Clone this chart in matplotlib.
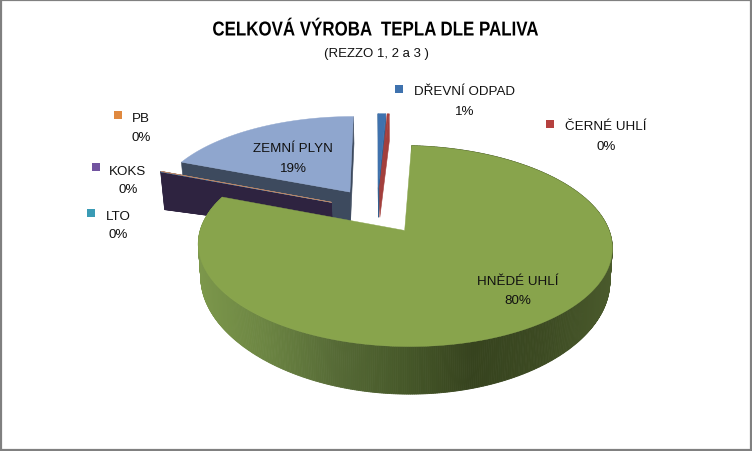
#!/usr/bin/env python3
"""Exploded 3D pie: celkova vyroba tepla dle paliva (drawn by hand, matplotlib has no 3D pie)."""
import numpy as np
import matplotlib
matplotlib.use("Agg")
import matplotlib.pyplot as plt
import matplotlib.patheffects as pe
from matplotlib.colors import LinearSegmentedColormap
from matplotlib.transforms import Affine2D

# slices run clockwise from 12 o'clock
categories = ["DŘEVNÍ ODPAD", "ČERNÉ UHLÍ", "HNĚDÉ UHLÍ", "LTO", "KOKS", "PB", "ZEMNÍ PLYN"]
values = [0.75, 0.20, 79.90, 0.01, 0.05, 0.02, 19.07]

top_colors = ["#3f72ae", "#a83f3c", "#88a44c", "#3a9bb5", "#5a4a7a", "#b98a6a", "#8fa6ce"]
face_colors = ["#34608f", "#a33f3c", "#4f6030", "#2e2340", "#2e2340", "#2e2340", "#3d4a5e"]
key_colors = ["#3f72ae", "#b5403e", "#88a44c", "#3a9bb5", "#7254a0", "#e0893f", "#8fa6ce"]

# x, y of label centre, and line spacing; key square x, y (None = no key)
label_pos = [(465, 92), (606, 127), (518, 282), (118, 217), (128, 172), (141, 119), (293, 149)]
line_gap = [20, 20, 19, 18, 18, 19, 20]
key_pos = [(399, 90), (550, 125), None, (91, 214), (96, 168), (118, 116), None]

# projection of the pie plane into pixels
X0, Y0, RX, RY, K, EXPLODE = 377, 211.5, 198, 92, 0.15, 0.25
VANISH_X = 404

wall_cmap = LinearSegmentedColormap.from_list(
    "wall", ["#7c974b", "#6b8442", "#566a36", "#465829", "#36431e", "#3c4a22", "#4a5a2c"])


class SqueezeX(pe.AbstractPathEffect):
    """Narrow a text horizontally about a pixel column (no condensed font installed)."""

    def __init__(self, factor, centre):
        super().__init__()
        self.factor, self.centre = factor, centre

    def draw_path(self, renderer, gc, tpath, affine, rgbFace=None):
        squeeze = Affine2D().translate(-self.centre, 0).scale(self.factor, 1).translate(self.centre, 0)
        renderer.draw_path(gc, tpath, affine + squeeze, rgbFace)


def project(u, v, z=0.0):
    s = 1 / (1 + K * v)
    x = X0 + RX * u * s
    # wall height grows quickly towards the viewer
    y = Y0 - RY * v * s + z * (27 + 149 * np.maximum(s - 0.85, 0) ** 2)
    x = VANISH_X + (x - VANISH_X) * (1 - 0.012 * z)
    return x, y


def rim_dx(c, t):
    """Horizontal run of the apex->rim edge, tells which cut faces look at the viewer."""
    return project(c[0] + np.sin(t), c[1] + np.cos(t))[0] - project(*c)[0]


def cut_face(ax, c, t, color, zorder, rim_z=1.0):
    u, v = c[0] + np.sin(t), c[1] + np.cos(t)
    pts = [project(c[0], c[1]), project(u, v), project(u, v, rim_z), project(c[0], c[1], 1)]
    ax.fill(*zip(*pts), color=color, lw=0.4, zorder=zorder)


def draw_slice(ax, t0, t1, top, face, zorder, gradient=False):
    mid = (t0 + t1) / 2
    c = (EXPLODE * np.sin(mid), EXPLODE * np.cos(mid))
    ts = np.linspace(t0, t1, max(2, int(np.degrees(t1 - t0) * 2)))
    us, vs = c[0] + np.sin(ts), c[1] + np.cos(ts)
    thin = t1 - t0 < np.radians(1) and mid > np.pi

    # outer wall first, the top face hides whatever is not visible
    if gradient:
        xs_all = project(us, vs)[0]
        lo, hi = xs_all.min(), xs_all.max()
        for i in range(len(ts) - 1):
            a = project(us[i], vs[i])
            b = project(us[i + 1], vs[i + 1])
            a2 = project(us[i], vs[i], 1)
            b2 = project(us[i + 1], vs[i + 1], 1)
            col = wall_cmap((a[0] - lo) / (hi - lo))
            ax.fill([a[0], b[0], b2[0], a2[0]], [a[1], b[1], b2[1], a2[1]],
                    color=col, lw=0.6, zorder=zorder)

    if rim_dx(c, t0) < 0:
        cut_face(ax, c, t0, face, zorder, rim_z=1.35 if thin else 1.0)
    if rim_dx(c, t1) > 0:
        cut_face(ax, c, t1, face, zorder)

    px, py = project(np.r_[c[0], us], np.r_[c[1], vs])
    ax.fill(px, py, color=top, lw=0.3, zorder=zorder + 0.5)
    if thin:
        ex, ey = project(np.array([c[0], us[0]]), np.array([c[1], vs[0]]))
        ax.plot(ex, ey, color=top, lw=0.5, zorder=zorder + 0.6)


fig = plt.figure(figsize=(7.52, 4.52), dpi=100)
ax = fig.add_axes([0, 0, 1, 1])
ax.set_xlim(0, 752)
ax.set_ylim(452, 0)
ax.axis("off")

# grey frame of the chart object
ax.plot([1, 751, 751, 1, 1], [1, 1, 451, 451, 1], color="#808080", lw=1.6, zorder=1,
        solid_joinstyle="miter")

edges = np.radians(np.r_[0, np.cumsum(values)] / np.sum(values) * 360)
# back to front
slice_z = [5, 6, 10, 4, 4.1, 4.2, 3]
for i in range(len(values)):
    draw_slice(ax, edges[i], edges[i + 1], top_colors[i], face_colors[i], slice_z[i],
               gradient=categories[i] == "HNĚDÉ UHLÍ")

sans = ["Liberation Sans", "DejaVu Sans"]
total = sum(values)
for i, name in enumerate(categories):
    x, y = label_pos[i]
    ax.text(x, y, name, ha="center", va="center", fontsize=9.6, family=sans, color="#111111", zorder=20)
    ax.text(x, y + line_gap[i], f"{values[i] / total * 100:.0f}%", ha="center", va="center",
            fontsize=9.6, family=sans, color="#111111", zorder=20)
    if key_pos[i] is not None:
        ax.scatter(*key_pos[i], marker="s", s=38, color=key_colors[i], lw=0, zorder=20)

ax.text(375.5, 31, "CELKOVÁ VÝROBA  TEPLA DLE PALIVA", ha="center", va="center", fontsize=14.5,
        fontweight="bold", family=sans, color="black", path_effects=[SqueezeX(0.84, 375.5)])
ax.text(376, 53.5, "(REZZO 1, 2 a 3 )", ha="center", va="center", fontsize=9.5, family=sans, color="#111111")

fig.savefig("out.png", dpi=100, facecolor="white")
